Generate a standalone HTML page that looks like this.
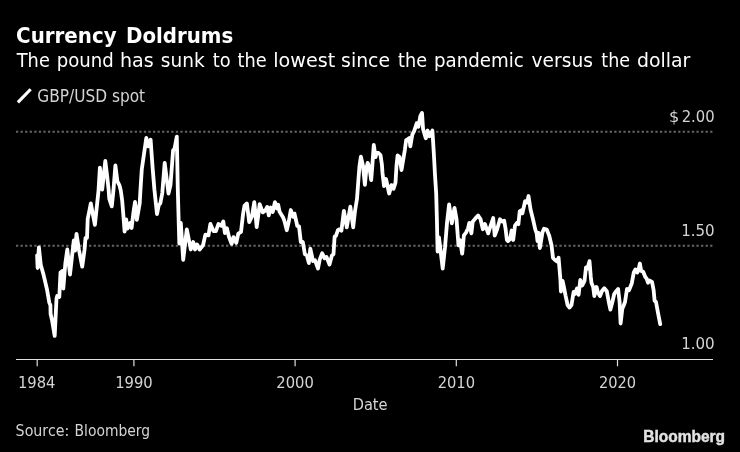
<!DOCTYPE html>
<html lang="en">
<head>
<meta charset="utf-8">
<title>Currency Doldrums</title>
<style>
html,body{margin:0;padding:0;background:#000;}
body{width:740px;height:452px;overflow:hidden;}
svg{display:block;}
text{font-family:"DejaVu Sans","Liberation Sans",sans-serif;}
.t{font-weight:bold;fill:#fff;}
.s{fill:#fff;}
.l{fill:#d4d4d4;}
.a{fill:#d4d4d4;}
.src{fill:#d4d4d4;}
.logo{font-family:"Liberation Sans",sans-serif;font-weight:bold;fill:#e2e2e2;stroke:#e2e2e2;stroke-width:0.45px;}
</style>
</head>
<body>
<svg width="740" height="452" viewBox="0 0 740 452">
<rect width="740" height="452" fill="#000"/>
<text class="t" y="43" font-size="22"><tspan x="16.07" textLength="100.65" lengthAdjust="spacingAndGlyphs">Currency</tspan> <tspan x="125.95" textLength="107.3" lengthAdjust="spacingAndGlyphs">Doldrums</tspan></text>
<text class="s" y="67" font-size="20"><tspan x="16.78" textLength="33.06" lengthAdjust="spacingAndGlyphs">The</tspan> <tspan x="56.68" textLength="57.11" lengthAdjust="spacingAndGlyphs">pound</tspan> <tspan x="119.91" textLength="33.69" lengthAdjust="spacingAndGlyphs">has</tspan> <tspan x="160.83" textLength="43.78" lengthAdjust="spacingAndGlyphs">sunk</tspan> <tspan x="212.72" textLength="17.86" lengthAdjust="spacingAndGlyphs">to</tspan> <tspan x="237.52" textLength="29.22" lengthAdjust="spacingAndGlyphs">the</tspan> <tspan x="273.31" textLength="61.92" lengthAdjust="spacingAndGlyphs">lowest</tspan> <tspan x="341.12" textLength="48.98" lengthAdjust="spacingAndGlyphs">since</tspan> <tspan x="398.02" textLength="29.01" lengthAdjust="spacingAndGlyphs">the</tspan> <tspan x="433.98" textLength="89.93" lengthAdjust="spacingAndGlyphs">pandemic</tspan> <tspan x="531.61" textLength="61.27" lengthAdjust="spacingAndGlyphs">versus</tspan> <tspan x="601.33" textLength="28.8" lengthAdjust="spacingAndGlyphs">the</tspan> <tspan x="637.01" textLength="53.38" lengthAdjust="spacingAndGlyphs">dollar</tspan></text>
<line x1="17.9" y1="102.3" x2="30.65" y2="89.25" stroke="#fff" stroke-width="3.2"/>
<text class="l" x="37.28" y="101.7" font-size="17" textLength="107.88" lengthAdjust="spacingAndGlyphs">GBP/USD spot</text>
<g stroke="#646464" stroke-width="2.1" stroke-dasharray="2.3 2.267">
<line x1="15.95" y1="131.7" x2="713" y2="131.7"/>
<line x1="15.95" y1="245.7" x2="713" y2="245.7"/>
</g>
<g stroke="#e0e0e0" stroke-width="1.2">
<line x1="16" y1="359.5" x2="713" y2="359.5"/>
<line x1="37.2" y1="359.5" x2="37.2" y2="366.3"/>
<line x1="133.9" y1="359.5" x2="133.9" y2="366.3"/>
<line x1="295.1" y1="359.5" x2="295.1" y2="366.3"/>
<line x1="456.3" y1="359.5" x2="456.3" y2="366.3"/>
<line x1="617.5" y1="359.5" x2="617.5" y2="366.3"/>
</g>
<text class="a" x="668.94" y="121.7" font-size="16.7" textLength="10.25" lengthAdjust="spacingAndGlyphs">$</text>
<text class="a" x="681.67" y="121.7" font-size="16.7" textLength="32.99" lengthAdjust="spacingAndGlyphs">2.00</text>
<text class="a" x="681.15" y="235.7" font-size="16.7" textLength="33.52" lengthAdjust="spacingAndGlyphs">1.50</text>
<text class="a" x="681.15" y="349.1" font-size="16.7" textLength="33.52" lengthAdjust="spacingAndGlyphs">1.00</text>
<text class="a" x="17.89" y="388.1" font-size="16.7" textLength="37.54" lengthAdjust="spacingAndGlyphs">1984</text>
<text class="a" x="115.19" y="388.1" font-size="16.7" textLength="37.57" lengthAdjust="spacingAndGlyphs">1990</text>
<text class="a" x="276.28" y="388.1" font-size="16.7" textLength="37.48" lengthAdjust="spacingAndGlyphs">2000</text>
<text class="a" x="437.68" y="388.1" font-size="16.7" textLength="37.37" lengthAdjust="spacingAndGlyphs">2010</text>
<text class="a" x="598.89" y="388.1" font-size="16.7" textLength="37.16" lengthAdjust="spacingAndGlyphs">2020</text>
<text class="a" x="352.63" y="410.1" font-size="16.7" textLength="34.94" lengthAdjust="spacingAndGlyphs">Date</text>
<text class="src" x="15.61" y="435.9" font-size="16" textLength="53.65" lengthAdjust="spacingAndGlyphs">Source:</text>
<text class="src" x="74.6" y="435.9" font-size="16" textLength="75.52" lengthAdjust="spacingAndGlyphs">Bloomberg</text>
<text class="logo" x="643.23" y="442" font-size="16.3" textLength="81.86" lengthAdjust="spacingAndGlyphs">Bloomberg</text>
<polyline fill="none" stroke="#fff" stroke-width="3.8" stroke-linejoin="round" stroke-linecap="round" points="37.1,255.5 37.6,268 38.9,247.4 40.8,265.1 43.5,274.6 47,289.5 49.3,302.6 50.4,305.3 50.6,314 52,320 54.7,335.9 56.5,298.5 57.2,296 59.3,297 60.5,272.4 62.3,271 63.3,288.5 65.3,263.8 67.3,249.5 70,274.5 72.5,252 73.8,240.5 75.1,250.5 76.5,233.8 78.9,249.5 82.2,266.7 84.5,250 85.5,238 87,238 87.7,219 89.5,210 90.8,203.3 94.9,224.9 97,205 98.5,190.8 99.9,167.7 102.2,189.5 105.3,160.9 107,175 108.6,189.5 109.3,198.8 111.8,206.4 113.4,190.8 115.4,165.4 117.4,181.4 119.5,185.4 120.8,190.8 122.2,200.8 123.5,217 124.6,231.5 126.2,219.5 127.6,228.5 130.3,222.9 131.6,228 133.5,212 135,202 136.8,219.9 139.7,203.5 140.4,190.8 141.8,169.2 146.3,137.9 148.3,146.4 150.6,139.7 152.7,169 154.4,189.5 157,214.1 158.8,205 160.3,203.5 162.3,193 164.7,162.9 168.5,193.5 170.5,185 173.1,150.3 174.5,148.9 176.8,136.6 177.8,190 179.3,243.5 180.8,222.9 183.2,259.8 186.8,229.3 190.8,249.5 193.2,242 195,249.5 197,244.5 199.6,249.5 203,245.4 205.4,234.6 208.5,235.3 210.4,223.9 213.4,231.1 215.9,231.2 218.4,224 221.4,225.8 223.3,221.5 224.9,233 226.9,228.3 229,237 231.6,243.9 233.5,237.1 236.3,242.9 238.3,233.7 241,232 243.1,213.8 244.5,205.7 246.9,203.5 249.2,222.1 251.9,216.5 254.3,202.1 256.7,227 259.7,204.1 262.7,212.4 265.4,210.4 267.2,206.9 268.8,215.3 270.8,207.5 272.8,211.9 274.9,202.1 276.9,208.5 278.2,204.8 279.6,211.8 283,217.2 284.3,220.5 286.8,230.2 289,220.5 290.8,210 293.1,216.7 294.5,213.6 297.3,226 299,226.3 300.8,242 302.8,242 304.9,254.2 306.9,255.5 308.9,263.1 310.3,248.6 313,261 315,260.3 318,268.5 319.7,259.6 322.2,253.3 324.5,258.2 326.5,256.9 329.5,264.5 331.9,255.5 333.5,254.2 334.6,236.6 335.9,236 338,229.9 339.5,229.3 341.4,230.7 343.9,210.8 346.8,227.3 350.3,206.7 353.2,227.3 355,211 357,198.8 358.4,179.9 359.5,166 360.9,156.6 363,166 364.9,184.8 366.5,167.7 367.7,162.9 369.5,168 371.2,180 372.4,164.5 373.8,145 375.6,157.2 376.5,152.8 378.5,153 380.5,155 381.9,164.5 382.5,173 384,186.1 386,179 389.2,193.5 391.5,185.1 393.5,188.8 395.5,182.6 396.5,166 397.6,155.5 399.5,157 401.5,170 404.9,149.6 406.2,140.1 408,139 409.4,137.9 410.3,146.4 412.3,134.7 414.3,130.7 416.8,123.1 418.4,126.8 420.4,115.8 422,112.9 423.1,129.3 425.8,138.3 427.6,130.5 429.5,136.3 432.4,130.5 433.5,148.2 434.2,160 434.9,173.5 436.2,193.8 436.9,219.5 437.6,251.5 439,237.5 442.7,268.5 445,247.4 447,223 449.1,204.5 451.8,223.3 454.5,207.8 456.5,219 458.5,245.4 459.9,240 462.2,253.7 463.9,235.3 466,232.6 468,228.5 469.3,222.9 471.4,233.4 472.7,221.8 475.4,218.4 478.1,215.5 480.5,219 482.8,229.2 484.9,224 488.2,233.4 490.5,226 493.2,218 494.7,235.7 497.2,229 500,219.3 502.2,221.5 504.2,220.7 505.6,229 506.9,240 508,241.1 510.1,239.2 511.6,230.5 513.2,240 515,225.5 516.8,223 518.4,224.2 519.7,211.4 521.8,210 522.4,213.4 525.1,201.2 527.2,202.6 528.5,196 530.5,209.3 533.2,220.1 535.3,229.6 536.6,233 537.5,241 538.6,233 539.9,248 542.5,232.3 544,228.7 546.8,229.6 549.3,236 551.6,245.8 553,258 555,260 557,261.5 558.6,257.8 560.4,279.6 560.9,291.5 562.6,280.9 564.2,288.5 565.5,295.3 567.6,305 569.5,307.5 571.5,305 573.6,292 575,294 577,288.5 578.6,294.8 580.3,280 582.3,285.5 584.5,281 586,267.4 587.5,268.5 589.5,261.2 590.8,277 591.5,283 593.2,287 594.3,296.1 596.6,287 598,292.6 600,296.1 602,291 604.3,288.2 606.8,291.2 608.8,302 610.4,309.6 612.4,302 614.2,294 616.2,291.2 618.1,289 619.6,302 620.6,323.5 622.3,308.8 623.5,306 625,302 627,289 629,290.3 631.8,283.2 633.8,272.4 635.4,269.5 637.2,272.6 638.5,270 639.9,263.5 641.2,271 643.2,271.8 645.3,277 646.6,278.5 648,282.7 649.3,280.5 652,281.9 653.6,290 654.6,300.7 656,302 658,312.8 660.2,324.2"/>
</svg>
</body>
</html>
